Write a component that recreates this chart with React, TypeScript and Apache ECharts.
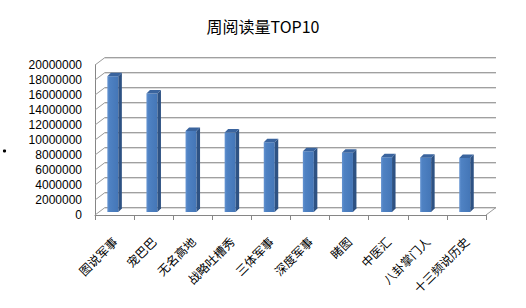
import React, { useEffect, useRef } from "react";
import * as echarts from "echarts";

const titleText = "周阅读量TOP10";
const categories = ["图说军事", "宠巴巴", "无名高地", "战略吐槽秀", "三体军事", "深度军事", "睹图", "中医汇", "八卦掌门人", "十三频说历史"];
const values = [18100000, 15800000, 10800000, 10600000, 9300000, 8100000, 7900000, 7300000, 7250000, 7200000];
const yTicks = [0, 2000000, 4000000, 6000000, 8000000, 10000000, 12000000, 14000000, 16000000, 18000000, 20000000];

const DX = 10;
const DY = -7.5;

export default function App() {
  const ref = useRef<HTMLDivElement>(null);
  useEffect(() => {
    if (!ref.current) return;
    const chart = echarts.init(ref.current, undefined, { renderer: "svg" });
    const option: any = {
      animation: false,
      backgroundColor: "#ffffff",
      title: {
        text: titleText,
        left: "center",
        top: 13,
        textStyle: { fontFamily: "Noto Sans CJK SC", fontSize: 16, fontWeight: "normal", color: "#000" },
      },
      graphic: [
        { type: "circle", shape: { cx: 4.5, cy: 151, r: 1.6 }, style: { fill: "#000" } },
      ],
      grid: { left: 95, right: 40, top: 65, bottom: 93 },
      xAxis: {
        type: "category",
        data: categories,
        axisLine: { show: true, lineStyle: { color: "#868686", width: 1 } },
        axisTick: { show: true, length: 5, lineStyle: { color: "#868686" } },
        axisLabel: {
          rotate: 45,
          margin: 24,
          interval: 0,
          fontFamily: "Noto Sans CJK SC",
          fontSize: 12,
          color: "#000",
        },
        splitLine: { show: false },
      },
      yAxis: {
        type: "value",
        min: 0,
        max: 20000000,
        interval: 2000000,
        axisLine: { show: true, lineStyle: { color: "#868686", width: 1 } },
        axisTick: { show: false },
        axisLabel: {
          margin: 13,
          fontFamily: "Liberation Sans",
          fontSize: 12,
          color: "#000",
          formatter: (v: number) => String(v),
        },
        splitLine: { show: false },
      },
      series: [
        {
          type: "custom",
          name: "wall",
          z: 1,
          clip: false,
          silent: true,
          data: yTicks.map((v) => [0, v]),
          encode: { x: 0, y: 1 },
          renderItem: (params: any, api: any) => {
            const cs = params.coordSys;
            const v = api.value(1);
            const y = api.coord([0, v])[1];
            const left = cs.x;
            const right = cs.x + cs.width;
            const children: any[] = [
              {
                type: "line",
                shape: { x1: left + DX, y1: y + DY + 1, x2: right + DX, y2: y + DY + 1 },
                style: { stroke: "#DCDCDC", lineWidth: 1 },
              },
              {
                type: "line",
                shape: { x1: left + DX, y1: y + DY, x2: right + DX, y2: y + DY },
                style: { stroke: "#A0A0A0", lineWidth: 1 },
              },
              {
                type: "line",
                shape: { x1: left, y1: y, x2: left + DX, y2: y + DY },
                style: { stroke: "#9A9A9A", lineWidth: 1 },
              },
            ];
            if (v === 0) {
              children.push({
                type: "line",
                shape: { x1: right, y1: y, x2: right + DX, y2: y + DY },
                style: { stroke: "#9A9A9A", lineWidth: 1 },
              });
            }
            return { type: "group", children };
          },
        },
        {
          type: "custom",
          name: "周阅读量",
          z: 2,
          clip: false,
          data: values.map((v, i) => [i, v]),
          encode: { x: 0, y: 1 },
          renderItem: (params: any, api: any) => {
            const idx = api.value(0);
            const v = api.value(1);
            const p = api.coord([idx, v]);
            const b = api.coord([idx, 0]);
            const cx = p[0];
            const top = p[1] - 3;
            const bottom = b[1] - 3;
            const l = cx - 7.2;
            const r = cx + 3.8;
            const d = 3.5;
            return {
              type: "group",
              children: [
                {
                  type: "rect",
                  shape: { x: l, y: top, width: r - l, height: bottom - top },
                  style: {
                    fill: new echarts.graphic.LinearGradient(0, 0, 1, 0, [
                      { offset: 0, color: "#6594D2" },
                      { offset: 0.2, color: "#4F82C3" },
                      { offset: 1, color: "#4476B7" },
                    ]),
                  },
                },
                {
                  type: "polygon",
                  shape: { points: [[r, top], [r + d, top - d], [r + d, bottom - d], [r, bottom]] },
                  style: { fill: "#2E5283" },
                },
                {
                  type: "polygon",
                  shape: { points: [[l, top], [l + d, top - d], [r + d, top - d], [r, top]] },
                  style: { fill: "#3A649E" },
                },
              ],
            };
          },
        },
      ],
    };
    chart.setOption(option);
    return () => chart.dispose();
  }, []);
  return <div ref={ref} style={{ position: "fixed", left: 0, top: 0, width: 526, height: 308 }} />;
}
